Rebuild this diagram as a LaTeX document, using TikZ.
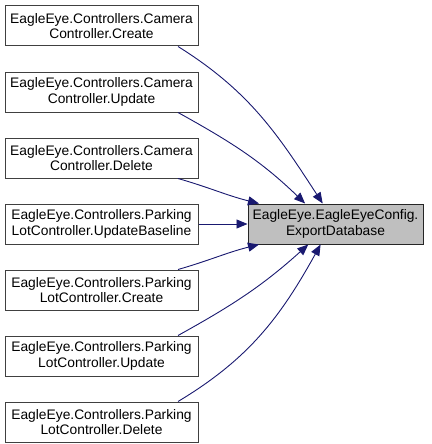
\documentclass[tikz,border=0pt]{standalone}
\usepackage{fontspec}
\setmainfont{Liberation Sans}
\usetikzlibrary{arrows.meta,positioning}
\definecolor{edgeblue}{HTML}{191970}
\definecolor{hitgray}{HTML}{BFBFBF}

\begin{document}
\begin{tikzpicture}[x=1pt,y=1pt,node distance=25pt and 49pt]
  \tikzset{fn/.style={draw=black!75,line width=1pt,fill=white,align=center,minimum width=193pt,minimum height=40pt,inner sep=0pt,font=\fontsize{13.8}{15.5}\selectfont},
    call/.style={draw=edgeblue,line width=0.9pt,-{Triangle[length=11pt,width=9pt,fill=edgeblue]}}}
  \useasboundingbox (0,0) rectangle (431,-444);
  \node[fn] (camcreate) at (101.5,-26) {EagleEye.Controllers.Camera\\Controller.Create};
  \node[fn,below=of camcreate] (camupdate) {EagleEye.Controllers.Camera\\Controller.Update};
  \node[fn,below=of camupdate] (camdelete) {EagleEye.Controllers.Camera\\Controller.Delete};
  \node[fn,below=of camdelete] (lotbase) {EagleEye.Controllers.Parking\\LotController.UpdateBaseline};
  \node[fn,below=of lotbase] (lotcreate) {EagleEye.Controllers.Parking\\LotController.Create};
  \node[fn,below=of lotcreate] (lotupdate) {EagleEye.Controllers.Parking\\LotController.Update};
  \node[fn,below=of lotupdate] (lotdelete) {EagleEye.Controllers.Parking\\LotController.Delete};
  \node[fn,fill=hitgray,draw=black!85,minimum width=175pt,right=of lotbase] (export) {EagleEye.EagleEyeConfig.\\ExportDatabase};
  \draw[call] (camcreate.-15) to[out=-32,in=123] (export.122);
  \draw[call] (camupdate.-15) to[out=-29,in=136] (export.146);
  \draw[call] (camdelete.-15) to[out=-16,in=166] (export.165);
  \draw[call] (lotbase) -- (export);
  \draw[call] (lotcreate.15) to[out=16,in=-166] (export.-165);
  \draw[call] (lotupdate.15) to[out=29,in=-138] (export.-143);
  \draw[call] (lotdelete.15) to[out=31,in=-119] (export.-126);
\end{tikzpicture}
\end{document}
